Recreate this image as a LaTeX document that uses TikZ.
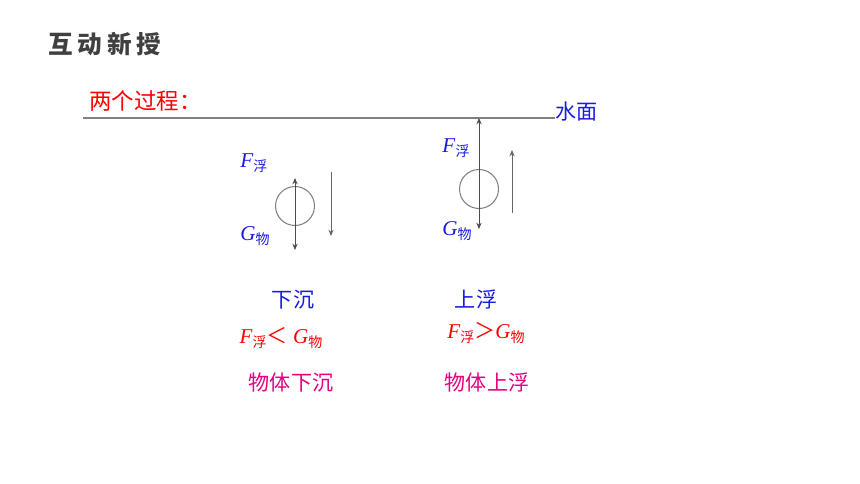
\documentclass[tikz,border=0pt]{standalone}
\usepackage{fontspec}
\usepackage{xcolor}
\setmainfont{Liberation Serif}
\newfontfamily\cjk{Noto Sans CJK SC}
\usetikzlibrary{arrows.meta}
\definecolor{titlegray}{HTML}{404040}
\definecolor{lblue}{HTML}{1A1AE6}
\definecolor{lpink}{HTML}{E5007F}
\newcommand{\fsub}[2]{\textit{#1}\raisebox{-0.4ex}{\cjk\fontsize{8}{8}\selectfont #2}}

\begin{document}
\begin{tikzpicture}[x=0.02cm, y=-0.02cm,
    cn/.style   = {font=\cjk\fontsize{12}{13}\selectfont, inner sep=0pt},
    flabel/.style = {text=lblue, font=\fontsize{12}{13}\selectfont, inner sep=0pt},
    ball/.style = {circle, draw=gray, line width=0.6pt, minimum size=0.78cm, inner sep=0pt},
    force/.style = {draw=black!70, line width=0.5pt, {Stealth[length=3.6pt,width=3pt]}-{Stealth[length=3.6pt,width=3pt]}},
    dir/.style  = {draw=black!60, line width=0.5pt, -{Stealth[length=3.6pt,width=3pt]}}]
  \useasboundingbox (0,0) rectangle (860,484);
  % title and surface
  \node (title) [font=\cjk\bfseries\fontsize{14}{15}\selectfont\addfontfeature{LetterSpace=20},
                 text=titlegray, inner sep=0pt] at (105,44) {互动新授};
  \node (two) [cn, font=\cjk\fontsize{12.8}{14}\selectfont, text=red, anchor=west] at (89,101) {两个过程：};
  \coordinate (wl) at (83,118);
  \coordinate (wr) at (555,118);
  \draw[gray, line width=0.6pt] (wl) -- (wr);
  \node (surf) [cn, text=lblue, anchor=west] at (555,112) {水面};

  % sinking
  \node (ballL) [ball] at (295,206) {};
  \coordinate (fL) at (295,178);
  \coordinate (gL) at (295,250);
  \draw[force] (fL) -- (gL);
  \coordinate (sL1) at (331,172);
  \coordinate (sL2) at (331,236);
  \draw[dir] (sL1) -- (sL2);
  \node (FL) [flabel] at (254,163) {\fsub{F}{浮}};
  \node (GL) [flabel] at (255,236) {\fsub{G}{物}};

  % rising
  \node (ballR) [ball] at (479,189) {};
  \coordinate (fR) at (479,118);
  \coordinate (gR) at (479,229);
  \draw[force] (fR) -- (gR);
  \coordinate (sR1) at (512,213);
  \coordinate (sR2) at (512,150);
  \draw[dir] (sR1) -- (sR2);
  \node (FR) [flabel] at (456,148) {\fsub{F}{浮}};
  \node (GR) [flabel] at (457,231) {\fsub{G}{物}};

  % captions
  \node (sink) [cn, text=lblue] at (293,300) {下沉};
  \node (rise) [cn, text=lblue] at (476,299) {上浮};
  \node (cmpL) [flabel, text=red] at (281,338) {\fsub{F}{浮}{\cjk ＜} \fsub{G}{物}};
  \node (cmpR) [flabel, text=red] at (486,333) {\fsub{F}{浮}{\cjk ＞}\fsub{G}{物}};
  \node (resL) [cn, text=lpink] at (291,382) {物体下沉};
  \node (resR) [cn, text=lpink] at (487,382) {物体上浮};
\end{tikzpicture}
\end{document}
